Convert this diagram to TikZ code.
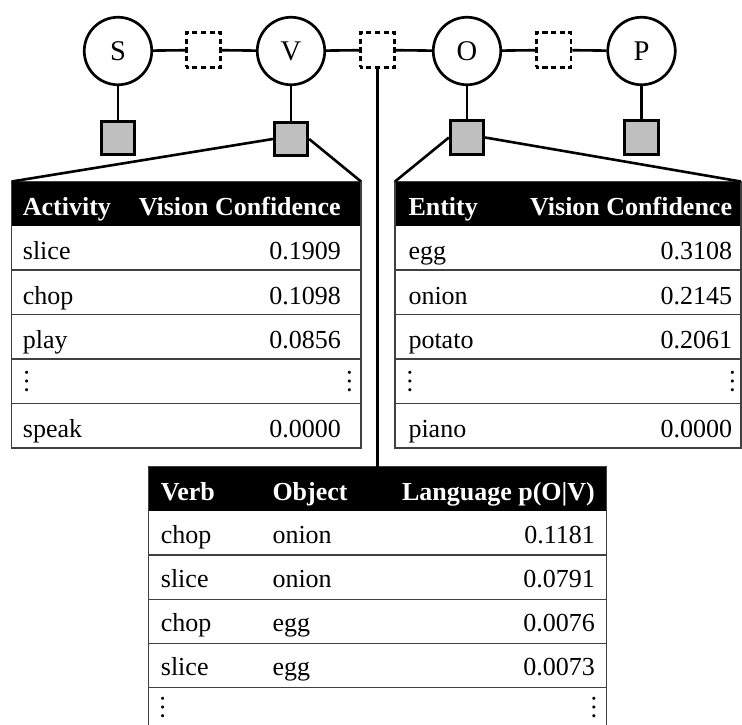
\documentclass[tikz,border=0pt]{standalone}
\usepackage{fontspec}
\setmainfont{Liberation Serif}
% vertical ellipsis built from the text font's own ellipsis
\newcommand\rowdots{\rotatebox{90}{\fontsize{26}{31}\selectfont …}}
\definecolor{obsgray}{gray}{0.75}
\definecolor{rulegray}{gray}{0.25}
\tikzset{
  txt/.style={font=\fontsize{26}{31}\selectfont, inner sep=0pt},
  var/.style={circle, draw, line width=2.7pt, minimum size=67.5pt, inner sep=0pt,
              font=\fontsize{28.5}{32}\selectfont},
  fac/.style={draw, line width=2.8pt, minimum size=34.5pt, inner sep=0pt,
              dash pattern=on 5.2pt off 3.425pt, dash phase=2.6pt},
  obs/.style={draw, line width=2.7pt, fill=obsgray, minimum size=33.5pt, inner sep=0pt},
  conn/.style={line width=2.6pt},
  frame/.style={draw=rulegray, line width=1.4pt},
  rowrule/.style={draw=rulegray, line width=1.3pt},
  hl/.style={txt, font=\fontsize{26}{31}\selectfont\bfseries, text=white, anchor=base west},
  hr/.style={txt, font=\fontsize{26}{31}\selectfont\bfseries, text=white, anchor=base east},
  cl/.style={txt, anchor=base west},
  cr/.style={txt, anchor=base east},
  dt/.style={inner sep=0pt, anchor=center},
}
\begin{document}
\begin{tikzpicture}[x=1pt, y=-1pt]
\clip (0,0) rectangle (742,724);

% ---- factor graph ----
\node[var] (S) at (118,51) {S};
\node[var] (V) at (291,51) {V};
\node[var] (O) at (467,51) {O};
\node[var] (P) at (641.5,51) {P};
\node[fac] (f1) at (203.5,50) {};
\node[fac] (f2) at (377.5,50) {};
\node[fac] (f3) at (553.7,50) {};
\node[obs] (oS) at (118,138) {};
\node[obs] (oV) at (291,139) {};
\node[obs] (oO) at (467,137.5) {};
\node[obs] (oP) at (641.5,137.5) {};

\draw[conn] (S) -- (f1) (f1) -- (V) (V) -- (f2) (f2) -- (O) (O) -- (f3) (f3) -- (P);
\draw[conn] (S) -- (oS) (V) -- (oV) (O) -- (oO) (P) -- (oP);

% ---- table corners ----
\coordinate (t1nw) at (11.7,181.5);
\coordinate (t1ne) at (361,181.5);
\coordinate (t2nw) at (395,181.5);
\coordinate (t2ne) at (740.8,181.5);
\coordinate (t3top) at (377.5,466.7);

% ---- activity table ----
\fill[black] (11.7,181.5) rectangle (361,225.5);
\foreach \y in {270,314.5,359,403.5} \draw[rowrule] (11.7,\y) -- (361,\y);
\draw[frame] (11.7,181.5) rectangle (361,448);
\node[hl] (a0) at (22.7,215) {Activity};
\node[hr] (a0v) at (341,215) {Vision Confidence};
\node[cl] (a1) at (22.7,259.5) {slice};  \node[cr] (a1v) at (341,259.5) {0.1909};
\node[cl] (a2) at (22.7,304)   {chop};   \node[cr] (a2v) at (341,304)   {0.1098};
\node[cl] (a3) at (22.7,348.5) {play};   \node[cr] (a3v) at (341,348.5) {0.0856};
\node[dt] (a4) at (26.7,381.5) {\rowdots}; \node[dt] (a4v) at (349.5,381.5) {\rowdots};
\node[cl] (a5) at (22.7,437.5) {speak};  \node[cr] (a5v) at (341,437.5) {0.0000};

% ---- entity table ----
\fill[black] (395,181.5) rectangle (740.8,225.5);
\foreach \y in {270,314.5,359,403.5} \draw[rowrule] (395,\y) -- (740.8,\y);
\draw[frame] (395,181.5) rectangle (740.8,448);
\node[hl] (e0) at (408.3,215) {Entity};
\node[hr] (e0v) at (732.3,215) {Vision Confidence};
\node[cl] (e1) at (408.3,259.5) {egg};    \node[cr] (e1v) at (732.3,259.5) {0.3108};
\node[cl] (e2) at (408.3,304)   {onion};  \node[cr] (e2v) at (732.3,304)   {0.2145};
\node[cl] (e3) at (408.3,348.5) {potato}; \node[cr] (e3v) at (732.3,348.5) {0.2061};
\node[dt] (e4) at (410,381.5) {\rowdots}; \node[dt] (e4v) at (732.5,381.5) {\rowdots};
\node[cl] (e5) at (408.3,437.5) {piano};  \node[cr] (e5v) at (732.3,437.5) {0.0000};

% ---- language table ----
\fill[black] (148.3,466.7) rectangle (606.7,511);
\foreach \y in {555,599.2,643.3,687.4} \draw[rowrule] (148.3,\y) -- (606.7,\y);
\draw[frame] (148.3,466.7) rectangle (606.7,731.5);
\node[hl] (l0) at (160.7,500) {Verb};
\node[hl] (l0o) at (272.3,500) {Object};
\node[hr] (l0p) at (595,500) {Language p(O|V)};
\node[cl] (l1) at (160.7,543.5) {chop};  \node[cl] (l1o) at (272.3,543.5) {onion}; \node[cr] (l1p) at (595,543.5) {0.1181};
\node[cl] (l2) at (160.7,587.5) {slice}; \node[cl] (l2o) at (272.3,587.5) {onion}; \node[cr] (l2p) at (595,587.5) {0.0791};
\node[cl] (l3) at (160.7,631.5) {chop};  \node[cl] (l3o) at (272.3,631.5) {egg};   \node[cr] (l3p) at (595,631.5) {0.0076};
\node[cl] (l4) at (160.7,675.5) {slice}; \node[cl] (l4o) at (272.3,675.5) {egg};   \node[cr] (l4p) at (595,675.5) {0.0073};
\node[dt] (l5) at (162.7,707) {\rowdots}; \node[dt] (l5p) at (594,707) {\rowdots};

% ---- links from factors to tables ----
\draw[conn] (oV.west) -- (t1nw) (oV.east) -- (t1ne);
\draw[conn] (oO.west) -- (t2nw) (oO.east) -- (t2ne);
\draw[conn] (f2.south) -- (t3top);
\end{tikzpicture}
\end{document}
